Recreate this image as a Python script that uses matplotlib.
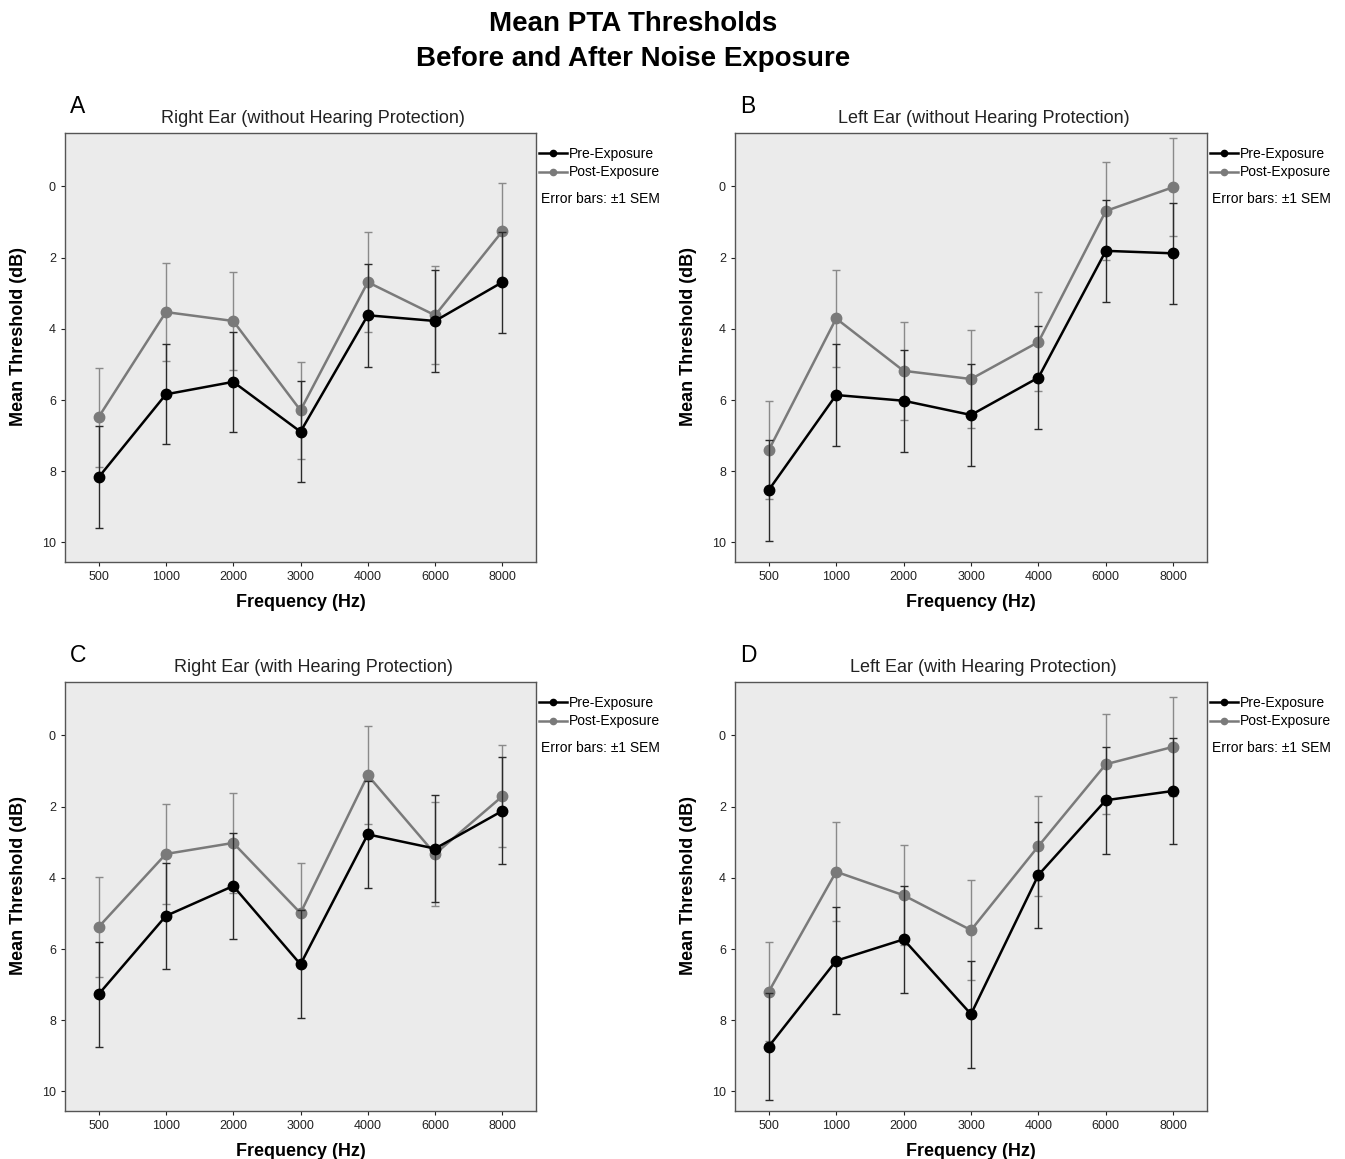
import matplotlib
matplotlib.use("Agg")
import matplotlib.pyplot as plt
import numpy as np

plt.rcParams['font.family'] = ['Liberation Sans', 'DejaVu Sans']

freqs = ['500', '1000', '2000', '3000', '4000', '6000', '8000']

# panel A: right ear, without protection
a_pre = [8.17, 5.84, 5.49, 6.89, 3.62, 3.78, 2.69]
a_pre_sem = [1.43, 1.40, 1.41, 1.41, 1.44, 1.43, 1.42]
a_post = [6.48, 3.53, 3.78, 6.29, 2.69, 3.62, 1.26]
a_post_sem = [1.39, 1.37, 1.37, 1.36, 1.41, 1.38, 1.36]

# panel B: left ear, without protection
b_pre = [8.53, 5.86, 6.02, 6.42, 5.37, 1.81, 1.88]
b_pre_sem = [1.42, 1.44, 1.43, 1.44, 1.45, 1.43, 1.41]
b_post = [7.41, 3.71, 5.18, 5.41, 4.37, 0.69, 0.02]
b_post_sem = [1.37, 1.36, 1.38, 1.37, 1.39, 1.38, 1.37]

# panel C: right ear, with protection
c_pre = [7.27, 5.07, 4.23, 6.43, 2.78, 3.18, 2.12]
c_pre_sem = [1.47, 1.48, 1.50, 1.52, 1.51, 1.50, 1.50]
c_post = [5.38, 3.33, 3.02, 4.99, 1.12, 3.33, 1.71]
c_post_sem = [1.40, 1.40, 1.40, 1.41, 1.38, 1.45, 1.43]

# panel D: left ear, with protection
d_pre = [8.74, 6.33, 5.73, 7.83, 3.92, 1.82, 1.56]
d_pre_sem = [1.50, 1.50, 1.50, 1.50, 1.50, 1.50, 1.50]
d_post = [7.20, 3.83, 4.49, 5.47, 3.11, 0.81, 0.32]
d_post_sem = [1.39, 1.39, 1.40, 1.41, 1.41, 1.40, 1.39]

panel_letters = ['A', 'B', 'C', 'D']
panel_titles = ['Right Ear (without Hearing Protection)',
                'Left Ear (without Hearing Protection)',
                'Right Ear (with Hearing Protection)',
                'Left Ear (with Hearing Protection)']
panels = [(a_pre, a_pre_sem, a_post, a_post_sem),
          (b_pre, b_pre_sem, b_post, b_post_sem),
          (c_pre, c_pre_sem, c_post, c_post_sem),
          (d_pre, d_pre_sem, d_post, d_post_sem)]

W, H = 1345, 1159
fig = plt.figure(figsize=(W / 100, H / 100), dpi=100)

# axes boxes in pixels: left, top, right, bottom
boxes = [(65, 133, 536, 562), (735, 133, 1207, 562),
         (65, 682, 536, 1111), (735, 682, 1207, 1111)]

black = '#000000'
grey = '#7a7a7a'
x = np.arange(len(freqs))

for i, (l, t, r, b) in enumerate(boxes):
    ax = fig.add_axes([l / W, 1 - b / H, (r - l) / W, (b - t) / H])
    ax.set_facecolor('#ebebeb')
    pre, pre_sem, post, post_sem = panels[i]

    post_eb = ax.errorbar(x, post, yerr=post_sem, color=grey, ecolor='#8a8a8a',
                          elinewidth=1, capsize=3, capthick=1, lw=1.8, marker='o',
                          ms=7.5, zorder=3)
    pre_eb = ax.errorbar(x, pre, yerr=pre_sem, color=black, ecolor='#2a2a2a',
                         elinewidth=1, capsize=3, capthick=1, lw=1.8, marker='o',
                         ms=7.5, zorder=4)

    ax.set_xlim(-0.5, 6.5)
    ax.set_ylim(10.55, -1.5)
    ax.set_yticks([0, 2, 4, 6, 8, 10])
    ax.set_xticks(x)
    ax.set_xticklabels(freqs)
    ax.tick_params(labelsize=9, length=3, width=0.8, colors='#222222')
    for s in ax.spines.values():
        s.set_color('#555555')
        s.set_linewidth(1)

    ax.set_xlabel('Frequency (Hz)', fontsize=13, fontweight='bold', labelpad=8)
    ax.set_ylabel('Mean Threshold (dB)', fontsize=13, fontweight='bold')
    ax.yaxis.set_label_coords(-0.08, 0.525)
    ax.set_title(panel_titles[i], fontsize=13, pad=7, color='#222222', x=0.527)
    ax.text(0.01, 1.035, panel_letters[i], transform=ax.transAxes,
            fontsize=16.5, ha='left', va='bottom')

    ax.legend([pre_eb[0], post_eb[0]], ['Pre-Exposure', 'Post-Exposure'],
              loc='upper left', bbox_to_anchor=(1.0, 0.975),
              frameon=False, fontsize=10, handlelength=2.0, handletextpad=0.15,
              labelspacing=0.35, borderaxespad=0, borderpad=0.2, markerscale=0.6)
    ax.text(1.01, 0.845, 'Error bars: \u00b11 SEM', transform=ax.transAxes,
            fontsize=10, ha='left', va='center')

fig.text(0.471, 0.979, 'Mean PTA Thresholds', fontsize=20, fontweight='bold',
         ha='center', va='center')
fig.text(0.471, 0.949, 'Before and After Noise Exposure', fontsize=20,
         fontweight='bold', ha='center', va='center')

fig.savefig('out.png', dpi=100)
